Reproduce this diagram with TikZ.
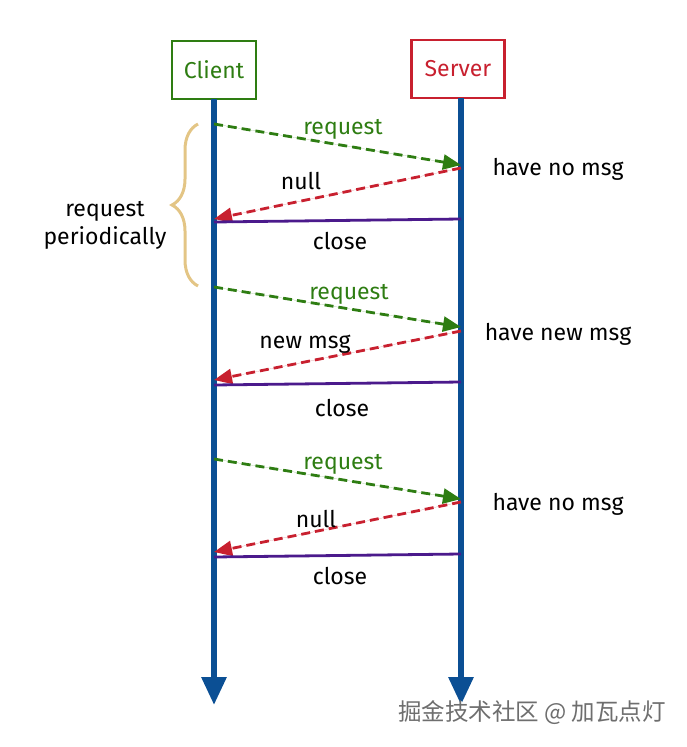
\documentclass[tikz,border=0pt]{standalone}
\usepackage{fontspec}
\setmainfont{Fira Sans}
\newfontfamily\cjk{Noto Sans CJK SC}
\usetikzlibrary{arrows.meta,decorations.pathreplacing}
\definecolor{cgreen}{HTML}{2E7D12}
\definecolor{cred}{HTML}{C8202F}
\definecolor{cblue}{HTML}{0B4F94}
\definecolor{cpurple}{HTML}{4B1A8C}
\definecolor{ctan}{HTML}{E3C585}
\definecolor{cgray}{HTML}{6E6E6E}
\tikzset{
  x=1pt, y=-1pt,
  actor/.style={draw=#1, line width=2.6pt, minimum width=84pt, minimum height=58pt, text=#1, font=\fontsize{23}{27}\selectfont},
  life/.style={draw=cblue, line width=6pt, -{Triangle[length=28pt,width=24pt]}},
  req/.style={draw=cgreen, dashed, dash pattern=on 9pt off 5pt, line width=2.8pt, -{Triangle[length=18pt,width=15pt]}, fill=cgreen},
  resp/.style={draw=cred, dashed, dash pattern=on 9pt off 5pt, line width=2.8pt, -{Triangle[length=18pt,width=15pt]}, fill=cred},
  closeline/.style={draw=cpurple, line width=2.8pt},
  lbl/.style={font=\fontsize{23}{28}\selectfont, text=black},
  glbl/.style={font=\fontsize{23}{27}\selectfont, text=cgreen},
}
\begin{document}
\begin{tikzpicture}
\useasboundingbox (0,0) rectangle (687,747);
\node[actor=cgreen] (client) at (214,70) {Client};
\node[actor=cred, minimum width=93pt] (server) at (458,69) {Server};
\coordinate (cend) at (214,705);
\coordinate (send) at (461,705);
\draw[life] (214,99) -- (cend);
\draw[life] (461,98) -- (send);
% round 1
\coordinate (c1a) at (214,124); \coordinate (s1a) at (461,165);
\coordinate (s1b) at (461,168); \coordinate (c1b) at (214,219);
\coordinate (s1c) at (461,219); \coordinate (c1c) at (214,222);
\draw[req] (c1a) -- (s1a);
\draw[resp] (s1b) -- (c1b);
\draw[closeline] (s1c) -- (c1c);
\node[glbl] (r1) at (343,129) {request};
\node[lbl] (n1) at (301,181) {null};
\node[lbl] (cl1) at (340,241) {close};
\node[lbl] (h1) at (558,169) {have no msg};
% round 2
\coordinate (c2a) at (214,287); \coordinate (s2a) at (461,327);
\coordinate (s2b) at (461,331); \coordinate (c2b) at (214,380);
\coordinate (s2c) at (461,382); \coordinate (c2c) at (214,385);
\draw[req] (c2a) -- (s2a);
\draw[resp] (s2b) -- (c2b);
\draw[closeline] (s2c) -- (c2c);
\node[glbl] (r2) at (349,294) {request};
\node[lbl] (n2) at (305,344) {new msg};
\node[lbl] (cl2) at (342,408) {close};
\node[lbl] (h2) at (558,334) {have new msg};
% round 3
\coordinate (c3a) at (214,459); \coordinate (s3a) at (461,499);
\coordinate (s3b) at (461,502); \coordinate (c3b) at (214,552);
\coordinate (s3c) at (461,554); \coordinate (c3c) at (214,557);
\draw[req] (c3a) -- (s3a);
\draw[resp] (s3b) -- (c3b);
\draw[closeline] (s3c) -- (c3c);
\node[glbl] (r3) at (343,464) {request};
\node[lbl] (n3) at (316,519) {null};
\node[lbl] (cl3) at (340,576) {close};
\node[lbl] (h3) at (558,504) {have no msg};
% brace
\coordinate (bt) at (198,124); \coordinate (bb) at (198,286);
\draw[ctan, line width=3pt, decorate, decoration={brace, amplitude=26pt, aspect=0.5}] (bb) -- (bt);
\node[lbl, align=center] (per) at (105,225) {request\\periodically};
% watermark
\node[text=white, font=\cjk\fontsize{23.5}{27}\selectfont] at (533,714) {掘金技术社区 @ 加瓦点灯};
\node[text=cgray, font=\cjk\fontsize{23.5}{27}\selectfont] (wm) at (532,713) {掘金技术社区 @ 加瓦点灯};
\end{tikzpicture}
\end{document}
